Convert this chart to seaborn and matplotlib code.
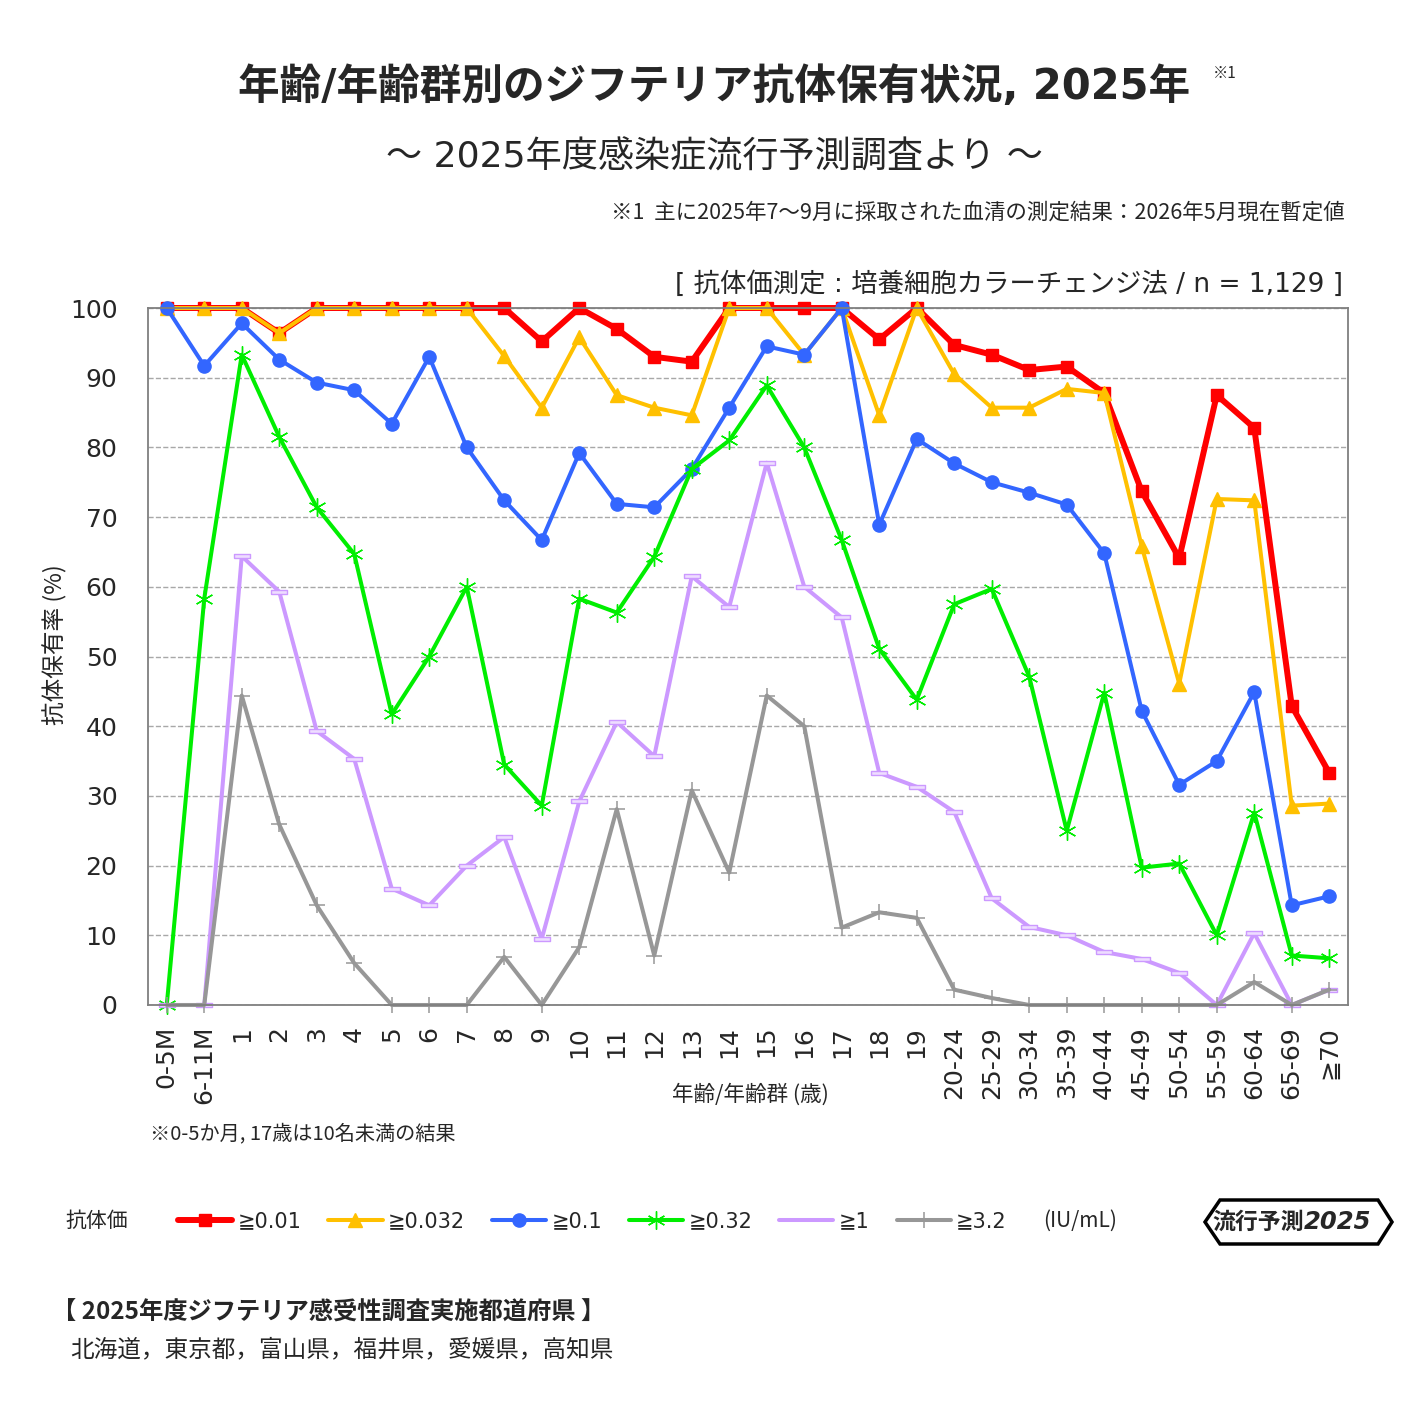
import numpy as np
import pandas as pd
import matplotlib
matplotlib.use('Agg')
import matplotlib.pyplot as plt
from matplotlib.patches import Polygon
from matplotlib.lines import Line2D
import seaborn as sns

# age groups on the x axis
ages = ['0-5M', '6-11M', '1', '2', '3', '4', '5', '6', '7', '8', '9',
        '10', '11', '12', '13', '14', '15', '16', '17', '18', '19',
        '20-24', '25-29', '30-34', '35-39', '40-44', '45-49', '50-54',
        '55-59', '60-64', '65-69', '≧70']

# seroprevalence (%) for each antibody titre threshold
ge001 = [100, 100, 100, 96.4, 100, 100, 100, 100, 100, 100, 95.2,
         100, 97.0, 93.0, 92.3, 100, 100, 100, 100, 95.5, 100,
         94.7, 93.3, 91.1, 91.6, 87.8, 73.7, 64.1, 87.5, 82.8, 42.9, 33.3]
ge0032 = [100, 100, 100, 96.4, 100, 100, 100, 100, 100, 93.1, 85.7,
          95.8, 87.5, 85.7, 84.6, 100, 100, 93.3, 100, 84.6, 100,
          90.5, 85.7, 85.7, 88.4, 87.8, 65.8, 46.1, 72.6, 72.4, 28.6, 28.9]
ge01 = [100, 91.7, 97.8, 92.6, 89.3, 88.2, 83.4, 93.0, 80.0, 72.4, 66.7,
        79.2, 71.9, 71.4, 76.9, 85.7, 94.5, 93.3, 100, 68.9, 81.2,
        77.7, 75.0, 73.5, 71.8, 64.8, 42.2, 31.6, 35.0, 44.9, 14.3, 15.6]
ge032 = [0, 58.3, 93.3, 81.5, 71.4, 64.7, 41.7, 50.0, 60.0, 34.5, 28.6,
         58.3, 56.3, 64.3, 76.9, 81.0, 88.9, 80.0, 66.7, 51.1, 43.8,
         57.5, 59.7, 47.1, 25.0, 44.8, 19.7, 20.3, 10.0, 27.6, 7.1, 6.7]
ge1 = [0, 0, 64.4, 59.3, 39.3, 35.3, 16.7, 14.3, 20.0, 24.1, 9.5,
       29.2, 40.6, 35.7, 61.5, 57.1, 77.8, 60.0, 55.6, 33.3, 31.3,
       27.7, 15.3, 11.2, 10.0, 7.6, 6.6, 4.6, 0, 10.3, 0, 2.2]
ge32 = [0, 0, 44.4, 25.9, 14.3, 6.0, 0, 0, 0, 6.9, 0,
        8.3, 28.1, 7.1, 30.8, 19.0, 44.4, 40.0, 11.1, 13.3, 12.5,
        2.2, 1.0, 0, 0, 0, 0, 0, 0, 3.3, 0, 2.2]

labels = ['≧0.01', '≧0.032', '≧0.1', '≧0.32', '≧1', '≧3.2']

sns.set_style('white')
plt.rcParams['font.family'] = ['DejaVu Sans', 'Noto Sans CJK JP']
jp = ['Noto Sans CJK JP', 'DejaVu Sans']
lat = ['DejaVu Sans', 'Noto Sans CJK JP']

W, H = 1417, 1425


def px(x, y):
    return x / W, 1 - y / H


fig = plt.figure(figsize=(W / 100, H / 100), dpi=100)
ax = fig.add_axes([148 / W, 1 - 1005 / H, 1200 / W, 697 / H])

dash = [(-1, -0.28), (1, -0.28), (1, 0.28), (-1, 0.28), (-1, -0.28)]
styles = [
    # color, marker, markersize, linewidth, face, mew
    ('#FF0000', 's', 8.5, 4.3, '#FF0000', 1),
    ('#FFC000', '^', 10, 2.9, '#FFC000', 1),
    ('#3366FF', 'o', 9.5, 2.9, '#3366FF', 1),
    ('#00EE00', (6, 2, 0), 13, 2.9, '#00EE00', 1),
    ('#CC99FF', dash, 12, 2.9, '#EEDDFF', 1),
    ('#979797', '+', 12, 2.9, '#979797', 1.1),
]
data = [ge001, ge0032, ge01, ge032, ge1, ge32]

for vals, lab, (c, mk, ms, lw, fc, mew) in zip(data, labels, styles):
    sns.lineplot(x=ages, y=vals, ax=ax, sort=False, label=lab, color=c,
                 marker=mk, markersize=ms, lw=lw, markerfacecolor=fc,
                 markeredgecolor=c, markeredgewidth=mew, clip_on=False)

ax.set_xlim(-0.5, 31.5)
ax.set_ylim(0, 100)
ax.set_yticks(range(0, 101, 10))
ax.yaxis.grid(True, linestyle='--', color='#A8A8A8', lw=1)
ax.xaxis.grid(False)
for s in ax.spines.values():
    s.set_color('#7F7F7F')
    s.set_linewidth(1.3)
ax.tick_params(axis='y', length=0, pad=22, labelsize=18)
ax.tick_params(axis='x', length=5, width=1, color='#7F7F7F', pad=10,
               labelsize=18, labelrotation=90, direction='out')
ax.set_xlabel('')
ax.set_ylabel('')

handles, labs = ax.get_legend_handles_labels()
ax.get_legend().remove()
# the >=1 series shows no marker in the legend: use a plain proxy line
handles[4] = Line2D([], [], color=styles[4][0], lw=styles[4][3])
fig.legend(handles, labs, loc='center left', bbox_to_anchor=px(178, 1221),
           ncol=6, frameon=False, fontsize=15, handlelength=2.6,
           handletextpad=0.25, columnspacing=1.3, borderaxespad=0,
           borderpad=0)

# titles and notes
fig.text(*px(714, 87), '年齢/年齢群別のジフテリア抗体保有状況, 2025年',
         ha='center', va='center', fontsize=30, fontweight='bold', family=lat)
fig.text(*px(1213, 73), '※1', ha='left', va='center', fontsize=11, family=jp)
fig.text(*px(714, 157), '～ 2025年度感染症流行予測調査より ～',
         ha='center', va='center', fontsize=26, family=lat)
fig.text(*px(1345, 213), '※1  主に2025年7～9月に採取された血清の測定結果：2026年5月現在暫定値',
         ha='right', va='center', fontsize=15.5, family=jp)
fig.text(*px(1343, 285), '[ 抗体価測定 : 培養細胞カラーチェンジ法 / n = 1,129 ]',
         ha='right', va='center', fontsize=19, family=lat)
fig.text(*px(55, 645), '抗体保有率 (%)', rotation=90, ha='center', va='center',
         fontsize=17, family=jp)
fig.text(*px(750, 1095), '年齢/年齢群 (歳)', ha='center', va='center',
         fontsize=15.5, family=jp)
fig.text(*px(150, 1134), '※0-5か月, 17歳は10名未満の結果', ha='left', va='center',
         fontsize=14.5, family=jp)

fig.text(*px(65, 1221), '抗体価', ha='left', va='center', fontsize=15, family=jp)
fig.text(*px(1043, 1221), '(IU/mL)', ha='left', va='center', fontsize=15, family=jp)

# logo
hexagon = [px(1205, 1222), px(1220, 1200), px(1378, 1200), px(1392, 1222),
           px(1378, 1244), px(1220, 1244)]
fig.add_artist(Polygon(hexagon, closed=True, fill=False, ec='black', lw=2.5,
                       transform=fig.transFigure))
fig.text(*px(1258, 1222), '流行予測', ha='center', va='center', fontsize=16.5,
         fontweight='bold', family=jp)
fig.text(*px(1338, 1222), '2025', ha='center', va='center', fontsize=17.5,
         fontweight='bold', style='italic', family='DejaVu Sans')

fig.text(*px(52, 1313), '【 2025年度ジフテリア感受性調査実施都道府県 】', ha='left',
         va='center', fontsize=17.5, fontweight='bold', family=jp)
fig.text(*px(70, 1350), '北海道，東京都，富山県，福井県，愛媛県，高知県', ha='left',
         va='center', fontsize=17, family=jp)

fig.savefig('out.png', dpi=100)
plt.close(fig)
